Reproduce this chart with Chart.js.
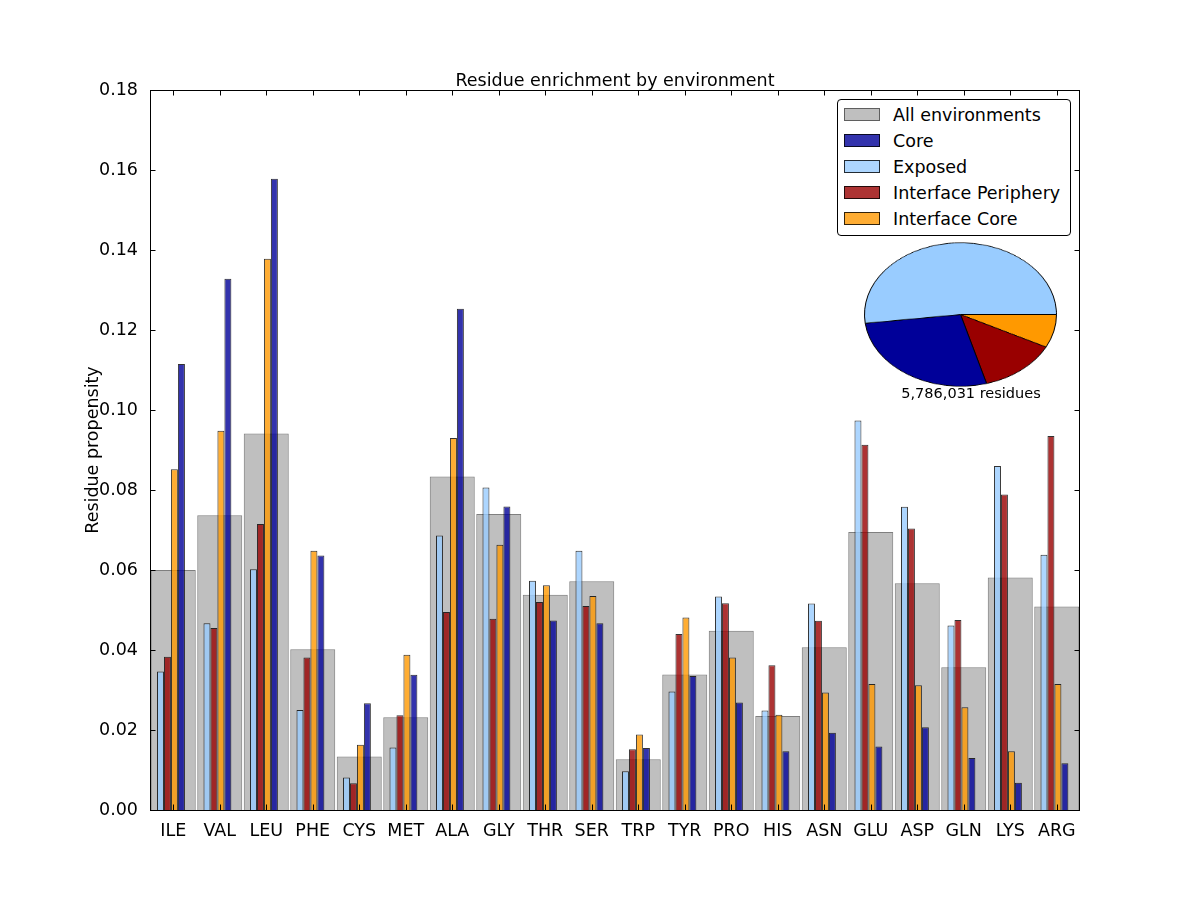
<!DOCTYPE html>
<html>
<head>
<meta charset="utf-8">
<title>Residue enrichment by environment</title>
<script src="https://cdn.jsdelivr.net/npm/chart.js@4.4.0/dist/chart.umd.min.js"></script>
<style>
  body { margin: 0; background: #fff; }
  #wrap { position: relative; width: 1200px; height: 900px; font-family: "DejaVu Sans", sans-serif; }
  #mainChart { position: absolute; left: 0; top: 0; }
  #pieChart { position: absolute; left: 864px; top: 218px; transform: scaleY(0.747); transform-origin: 50% 50%; }
  #legend {
    position: absolute; left: 837px; top: 99px; width: 232px; height: 133px;
    border: 1px solid #000; border-radius: 4px; background: #fff;
    padding-top: 2px; box-sizing: content-box;
  }
  #legend .row { height: 25.9px; display: flex; align-items: center; font-size: 17.5px; color: #000; }
  #legend .sw { width: 34px; height: 11px; margin-left: 6px; margin-right: 13px; border: 1px solid; }
</style>
</head>
<body>
<div id="wrap">
  <canvas id="mainChart" width="1200" height="900"></canvas>
  <canvas id="pieChart" width="193" height="193"></canvas>
  <div id="legend"></div>
</div>
<script>
// values
const residues = ["ILE", "VAL", "LEU", "PHE", "CYS", "MET", "ALA", "GLY", "THR", "SER",
  "TRP", "TYR", "PRO", "HIS", "ASN", "GLU", "ASP", "GLN", "LYS", "ARG"];

const allEnv = [0.0600, 0.0737, 0.0941, 0.0402, 0.0134, 0.0232, 0.0834, 0.0740, 0.0538, 0.0572,
  0.0127, 0.0339, 0.0448, 0.0235, 0.0407, 0.0695, 0.0567, 0.0357, 0.0581, 0.0509];
const exposed = [0.0346, 0.0467, 0.0602, 0.0250, 0.0081, 0.0156, 0.0686, 0.0806, 0.0573, 0.0648,
  0.0097, 0.0296, 0.0534, 0.0249, 0.0516, 0.0974, 0.0758, 0.0461, 0.0860, 0.0638];
const periphery = [0.0383, 0.0455, 0.0715, 0.0381, 0.0067, 0.0237, 0.0495, 0.0478, 0.0520, 0.0510,
  0.0152, 0.0440, 0.0517, 0.0362, 0.0473, 0.0913, 0.0704, 0.0475, 0.0789, 0.0935];
const interfaceCore = [0.0852, 0.0948, 0.1378, 0.0648, 0.0163, 0.0388, 0.0930, 0.0663, 0.0562, 0.0535,
  0.0189, 0.0481, 0.0381, 0.0238, 0.0294, 0.0315, 0.0312, 0.0257, 0.0147, 0.0315];
const core = [0.1115, 0.1328, 0.1578, 0.0636, 0.0267, 0.0338, 0.1253, 0.0759, 0.0474, 0.0467,
  0.0155, 0.0335, 0.0269, 0.0147, 0.0193, 0.0159, 0.0207, 0.0130, 0.0068, 0.0117];

// pie shares, clockwise from 3 o'clock
const pieLabels = ["Interface Core", "Interface Periphery", "Core", "Exposed"];
const pieShares = [0.075, 0.131, 0.274, 0.519];
const totalLabel = "5,786,031 residues";

const legendLabels = ["All environments", "Core", "Exposed", "Interface Periphery", "Interface Core"];

const FONT = '"DejaVu Sans", sans-serif';
const colors = {
  all: "rgba(128,128,128,0.5)",
  core: "rgba(0,0,153,0.8)",
  exposed: "rgba(153,204,255,0.8)",
  periphery: "rgba(153,0,0,0.8)",
  interfaceCore: "rgba(255,153,0,0.8)",
};
const pieColors = ["#ff9900", "#990000", "#000099", "#99ccff"];

// each coloured series gets its own hidden linear axis, shifted so its bar
// sits at 0.15 + 0.15*k of the residue slot (like the original offsets)
const SLOT_SHIFT = [0.225, 0.375, 0.525, 0.675];
const BAR_W = 0.15 * 46.5;

const envBar = (label, data, color, k) => ({
  label,
  data: data.map((v, i) => ({ x: i, y: v })),
  xAxisID: "x" + k,
  backgroundColor: color,
  borderColor: "rgba(0,0,0,0.8)",
  borderWidth: 1,
  grouped: false,
  barPercentage: 1,
  maxBarThickness: BAR_W,
  order: 0,
});

const shiftedAxes = {};
SLOT_SHIFT.forEach((s, k) => {
  shiftedAxes["x" + k] = {
    type: "linear",
    display: false,
    min: -s,
    max: residues.length - s,
    offset: false,
    ticks: { stepSize: 1 },
  };
});

const framePlugin = {
  id: "frame",
  afterDatasetsDraw(chart) {
    const { ctx, chartArea: a, scales } = chart;
    ctx.save();
    ctx.strokeStyle = "#000";
    ctx.lineWidth = 1;
    ctx.strokeRect(a.left + 0.5, a.top + 0.5, a.right - a.left - 1, a.bottom - a.top);
    const len = 5.5;
    ctx.beginPath();
    scales.y.ticks.forEach((t, i) => {
      const py = Math.round(scales.y.getPixelForTick(i)) + 0.5;
      ctx.moveTo(a.left, py); ctx.lineTo(a.left + len, py);
      ctx.moveTo(a.right, py); ctx.lineTo(a.right - len, py);
    });
    scales.x.ticks.forEach((t, i) => {
      const px = Math.round(scales.x.getPixelForTick(i)) + 0.5;
      ctx.moveTo(px, a.bottom); ctx.lineTo(px, a.bottom - len);
      ctx.moveTo(px, a.top); ctx.lineTo(px, a.top + len);
    });
    ctx.stroke();

    ctx.fillStyle = "#000";
    ctx.font = "17.5px " + FONT;
    ctx.textAlign = "center";
    ctx.textBaseline = "alphabetic";
    ctx.fillText("Residue enrichment by environment", (a.left + a.right) / 2, 86);

    ctx.font = "14.5px " + FONT;
    ctx.textBaseline = "middle";
    ctx.fillText(totalLabel, 971, 394);
    ctx.restore();
  },
};

new Chart(document.getElementById("mainChart"), {
  type: "bar",
  data: {
    labels: residues,
    datasets: [
      envBar("Exposed", exposed, colors.exposed, 0),
      envBar("Interface Periphery", periphery, colors.periphery, 1),
      envBar("Interface Core", interfaceCore, colors.interfaceCore, 2),
      envBar("Core", core, colors.core, 3),
      {
        label: "All environments",
        data: allEnv,
        xAxisID: "x",
        backgroundColor: colors.all,
        borderColor: "rgba(0,0,0,0.5)",
        borderWidth: 1,
        grouped: false,
        categoryPercentage: 1,
        barPercentage: 0.968,
        order: 1,
      },
    ],
  },
  options: {
    responsive: false,
    animation: false,
    layout: { padding: { left: 0, right: 120, top: 90, bottom: 0 } },
    plugins: {
      legend: { display: false },
      title: { display: false },
      tooltip: { enabled: false },
    },
    scales: {
      x: {
        type: "category",
        offset: true,
        grid: { display: false },
        border: { display: false },
        ticks: { color: "#000", font: { family: FONT, size: 17.5 }, padding: 3, maxRotation: 0, autoSkip: false },
        afterFit: (s) => { s.height = 90; },
      },
      ...shiftedAxes,
      y: {
        min: 0,
        max: 0.18,
        grid: { display: false },
        border: { display: false },
        ticks: {
          stepSize: 0.02,
          color: "#000",
          font: { family: FONT, size: 17.5 },
          padding: 4,
          callback: (v) => v.toFixed(2),
        },
        title: {
          display: true,
          text: "Residue propensity",
          color: "#000",
          font: { family: FONT, size: 17.5 },
          padding: { top: 83, bottom: 0 },
        },
        afterFit: (s) => { s.width = 150; },
      },
    },
  },
  plugins: [framePlugin],
});

new Chart(document.getElementById("pieChart"), {
  type: "pie",
  data: {
    labels: pieLabels,
    datasets: [{
      data: pieShares,
      backgroundColor: pieColors,
      borderColor: "#000",
      borderWidth: 1,
    }],
  },
  options: {
    responsive: false,
    animation: false,
    rotation: 90,
    plugins: { legend: { display: false }, tooltip: { enabled: false } },
  },
});

// legend box
const legendFill = [colors.all, colors.core, colors.exposed, colors.periphery, colors.interfaceCore];
const legendEdge = ["rgba(0,0,0,0.5)", "rgba(0,0,0,0.8)", "rgba(0,0,0,0.8)", "rgba(0,0,0,0.8)", "rgba(0,0,0,0.8)"];
const legendEl = document.getElementById("legend");
legendLabels.forEach((name, i) => {
  const row = document.createElement("div");
  row.className = "row";
  const sw = document.createElement("span");
  sw.className = "sw";
  sw.style.background = legendFill[i];
  sw.style.borderColor = legendEdge[i];
  const txt = document.createElement("span");
  txt.textContent = name;
  row.appendChild(sw);
  row.appendChild(txt);
  legendEl.appendChild(row);
});
</script>
</body>
</html>
